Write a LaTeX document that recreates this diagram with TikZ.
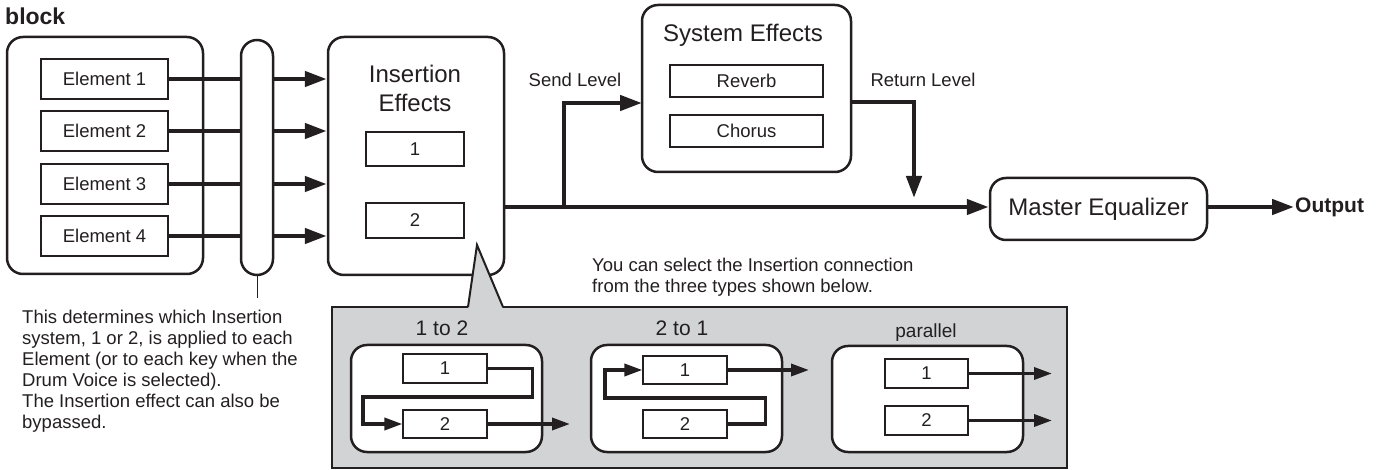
\documentclass[tikz,border=0pt]{standalone}
\usepackage{fontspec}
\setmainfont{Liberation Sans}
\usetikzlibrary{arrows.meta}
\definecolor{ink}{HTML}{231F20}
\definecolor{panel}{HTML}{D1D3D4}
\begin{document}
\begin{tikzpicture}[x=1pt,y=-1pt,
    every node/.style={text=ink},
    big/.style={font=\fontsize{24}{29}\selectfont},
    small/.style={font=\fontsize{18.5}{21}\selectfont},
    group/.style={draw=ink,line width=2.5pt,rounded corners=16pt,fill=white,inner sep=0pt},
    cell/.style={draw=ink,line width=1.2pt,fill=white,inner sep=0pt,small},
    flow/.style={draw=ink,line width=4.5pt,-{Triangle[length=22pt,width=15pt]}},
    link/.style={draw=ink,line width=3.5pt,-{Triangle[length=18pt,width=12pt]}}]
  \useasboundingbox (0,0) rectangle (1382,470);
  \node[anchor=north west,inner sep=0pt,font=\bfseries\fontsize{23}{28}\selectfont] (ttl) at (5,8) {block};
  % elements and insertion
  \node[group,minimum width=196pt,minimum height=237pt] (blk) at (105,155.5) {};
  \foreach \i/\y in {1/79,2/131,3/184,4/236}
    \node[cell,minimum width=127pt,minimum height=40pt] (e\i) at (104.5,\y) {Element \i};
  \node[group,minimum width=176pt,minimum height=238pt] (ins) at (416,156) {};
  \foreach \i in {1,...,4}
    \draw[flow] (e\i.east) -- (e\i.east -| ins.west);
  \node[group,minimum width=32pt,minimum height=235pt] (sel) at (257,157.5) {};
  \coordinate (stem) at (257,298);
  \draw[ink,line width=1pt] (sel.south) -- (stem);
  \node[big,align=center] (instxt) at (415,88) {Insertion\\Effects};
  \node[cell,minimum width=98pt,minimum height=34pt] (i1) at (415,149) {1};
  \node[cell,minimum width=98pt,minimum height=35pt] (i2) at (415,220.5) {2};
  % system effects
  \node[group,minimum width=209pt,minimum height=167pt] (sys) at (746.5,88.5) {};
  \node[big,anchor=base] (systxt) at (743,41.6) {System Effects};
  \node[cell,minimum width=153pt,minimum height=32pt] (rev) at (746.5,81) {Reverb};
  \node[cell,minimum width=153pt,minimum height=32pt] (cho) at (746.5,131) {Chorus};
  \node[small,anchor=base] (sndtxt) at (575,86.6) {Send Level};
  \node[small,anchor=base] (rettxt) at (923,86.6) {Return Level};
  \node[group,big,minimum width=217pt,minimum height=62pt] (meq) at (1098.5,209) {Master Equalizer};
  \node[anchor=west,inner sep=1pt,font=\bfseries\fontsize{21}{25}\selectfont] (out) at (1294,207) {Output};
  \coordinate (mo) at (504,207);
  \coordinate (snd) at (564,207);
  \coordinate (sndin) at (642,103);
  \coordinate (retout) at (851,102);
  \coordinate (retin) at (914,198);
  \draw[flow] (mo) -- (mo -| meq.west);
  \draw[flow] (snd) |- (sndin);
  \draw[flow] (retout) -| (retin);
  \draw[flow] (meq.east |- mo) -- (out.west);
  % notes
  \node[small,align=left,anchor=north west,inner sep=0pt] (note) at (22,310)
    {This determines which Insertion\\system, 1 or 2, is applied to each\\Element (or to each key when the\\Drum Voice is selected).\\The Insertion effect can also be\\bypassed.};
  \node[small,align=left,anchor=north west,inner sep=0pt] (hint) at (592,258)
    {You can select the Insertion connection\\from the three types shown below.};
  % connection types
  \node[draw=ink,line width=2pt,fill=panel,minimum width=735pt,minimum height=161pt,inner sep=0pt] (pnl) at (699.5,387.5) {};
  \coordinate (tip) at (477,245);
  \fill[panel] (tip) -- (468,309) -- (503,309) -- cycle;
  \draw[ink,line width=2pt] (468,307) -- (tip) -- (503,307);
  \node[group,minimum width=191pt,minimum height=107pt] (ca) at (446.5,398.5) {};
  \node[group,minimum width=191pt,minimum height=107pt] (cb) at (686.5,398.5) {};
  \node[group,minimum width=191pt,minimum height=106pt] (cc) at (927.5,399) {};
  \node[font=\fontsize{21}{25}\selectfont] (calbl) at (442,328) {1 to 2};
  \node[font=\fontsize{21}{25}\selectfont] (cblbl) at (682,328) {2 to 1};
  \node[font=\fontsize{19}{23}\selectfont] (cclbl) at (926,333) {parallel};
  \node[cell,minimum width=84pt,minimum height=29pt] (a1) at (445,368.5) {1};
  \node[cell,minimum width=84pt,minimum height=28pt] (a2) at (445,424) {2};
  \node[cell,minimum width=84pt,minimum height=28pt] (b1) at (685,370) {1};
  \node[cell,minimum width=84pt,minimum height=28pt] (b2) at (685,424) {2};
  \node[cell,minimum width=83pt,minimum height=29pt] (c1) at (926.5,373.5) {1};
  \node[cell,minimum width=83pt,minimum height=29pt] (c2) at (926.5,420.5) {2};
  \coordinate (aout) at (570,424);
  \coordinate (bout) at (809,370);
  \coordinate (cout1) at (1052,373.5);
  \coordinate (cout2) at (1052,420.5);
  \draw[link] (a1.east) -- ++(45,0) |- (363,397) |- (a2.west);
  \draw[link] (a2.east) -- (aout);
  \draw[link] (b2.east) -- ++(38,0) |- (605,398) |- (b1.west);
  \draw[link] (b1.east) -- (bout);
  \draw[link] (c1.east) -- (cout1);
  \draw[link] (c2.east) -- (cout2);
\end{tikzpicture}
\end{document}
